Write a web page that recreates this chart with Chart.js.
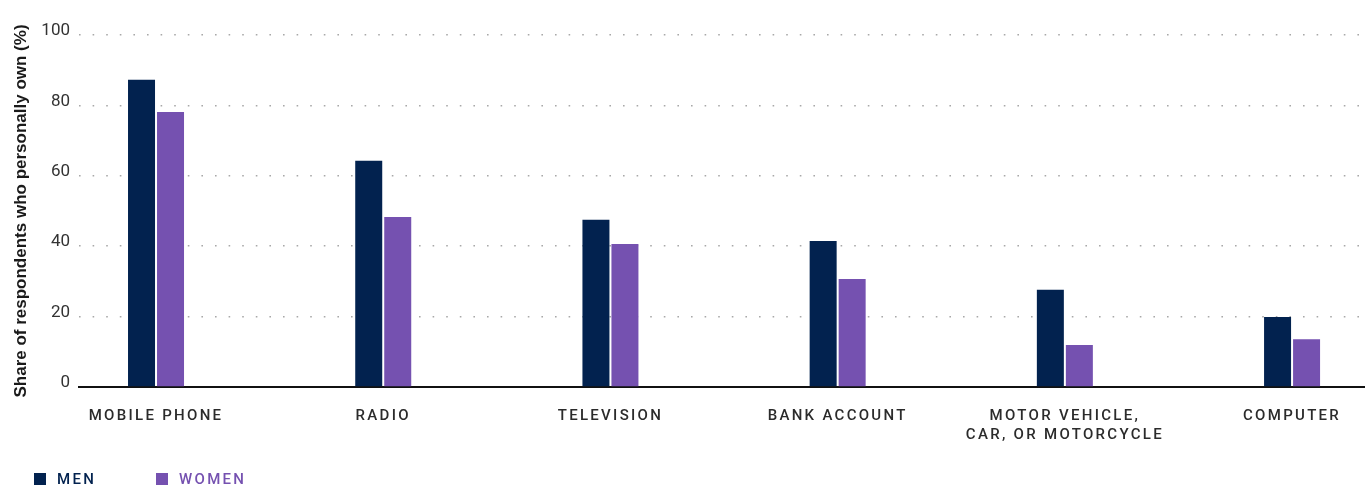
<!DOCTYPE html>
<html lang="en">
<head>
  <meta charset="UTF-8" />
  <title>Asset ownership by gender</title>
  <script src="https://cdn.jsdelivr.net/npm/chart.js@4"></script>
  <style>
    body { margin: 0; background: #fff; }
    .wrap { position: relative; width: 1365px; height: 486px; }
    .legend { position: absolute; top: 470px; left: 0; font-family: Roboto, 'Noto Sans', sans-serif; font-weight: 500; font-size: 15px; letter-spacing: 2.3px; }
    .legend .item { position: absolute; display: flex; align-items: center; white-space: nowrap; }
    .legend .sw { width: 12px; height: 12px; margin-right: 11px; }
  </style>
</head>
<body>

<div class="wrap">
  <canvas id="chart"></canvas>
  <div class="legend" id="legend"></div>
</div>

<script>
  // categories and values (% who personally own)
  const categories = [
    'MOBILE PHONE',
    'RADIO',
    'TELEVISION',
    'BANK ACCOUNT',
    ['MOTOR VEHICLE,', 'CAR, OR MOTORCYCLE'],
    'COMPUTER'
  ];
  const men = [87.3, 64.3, 47.5, 41.5, 27.6, 19.9];
  const women = [78.1, 48.3, 40.6, 30.7, 11.9, 13.6];
  const yTicks = [0, 20, 40, 60, 80, 100];

  const menColor = '#02224f';
  const womenColor = '#7551b0';

  const toPoints = arr => arr.map((v, i) => ({ x: i, y: v }));

  // letter-spaced category labels (canvas letterSpacing)
  function spaceLabels(scale) {
    if (scale._spaced) return;
    const orig = scale.drawLabels.bind(scale);
    scale.drawLabels = function (area) {
      const c = this.ctx;
      c.save();
      c.letterSpacing = '2.3px';
      orig(area);
      c.restore();
    };
    scale._spaced = true;
  }

  const chart = new Chart(document.getElementById('chart').getContext('2d'), {
    type: 'bar',
    data: {
      datasets: [
        { label: 'MEN', data: toPoints(men), backgroundColor: menColor },
        { label: 'WOMEN', data: toPoints(women), backgroundColor: womenColor }
      ]
    },
    options: {
      responsive: true,
      maintainAspectRatio: false,
      animation: false,
      categoryPercentage: 0.2553,
      barPercentage: 0.931,
      layout: { padding: { top: 35, bottom: 39, left: 0, right: 0 } },
      plugins: {
        legend: { display: false },
        tooltip: { enabled: false }
      },
      scales: {
        x: {
          type: 'linear',
          offset: false,
          min: -0.339,
          max: 5.321,
          grid: { display: false, drawTicks: false },
          border: { display: true, color: '#111', width: 2 },
          afterBuildTicks: scale => {
            scale.ticks = categories.map((c, i) => ({ value: i }));
          },
          afterFit: scale => { scale.height = 60; },
          afterUpdate: spaceLabels,
          ticks: {
            autoSkip: false,
            maxRotation: 0,
            padding: 20,
            color: '#2b2b2b',
            font: { family: 'Roboto, "Noto Sans", sans-serif', size: 15, weight: '500', lineHeight: 1.27 },
            callback: v => categories[v]
          }
        },
        y: {
          min: 0,
          max: 100,
          afterBuildTicks: scale => {
            scale.ticks = yTicks.map(v => ({ value: v }));
          },
          afterFit: scale => { scale.width = 79; },
          grid: {
            color: '#a8a8a8',
            lineWidth: 1.6,
            drawTicks: false
          },
          border: { display: false, dash: [1.6, 12] },
          ticks: {
            padding: 9,
            labelOffset: -4,
            color: '#333',
            font: { family: 'Roboto, "Noto Sans", sans-serif', size: 17 }
          },
          title: {
            display: true,
            text: 'Share of respondents who personally own (%)',
            color: '#1a1a1a',
            padding: { top: 11, bottom: 0 },
            font: { family: '"Liberation Sans", Arial, sans-serif', size: 17, weight: 'bold' }
          }
        }
      }
    }
  });

  // legend in html, colours taken from the datasets
  const legendPos = [34, 156];
  const legend = document.getElementById('legend');
  chart.data.datasets.forEach((ds, i) => {
    const item = document.createElement('div');
    item.className = 'item';
    item.style.left = legendPos[i] + 'px';
    item.style.color = ds.backgroundColor;
    item.innerHTML = `<span class="sw" style="background:${ds.backgroundColor}"></span>${ds.label}`;
    legend.appendChild(item);
  });
</script>

</body>
</html>
